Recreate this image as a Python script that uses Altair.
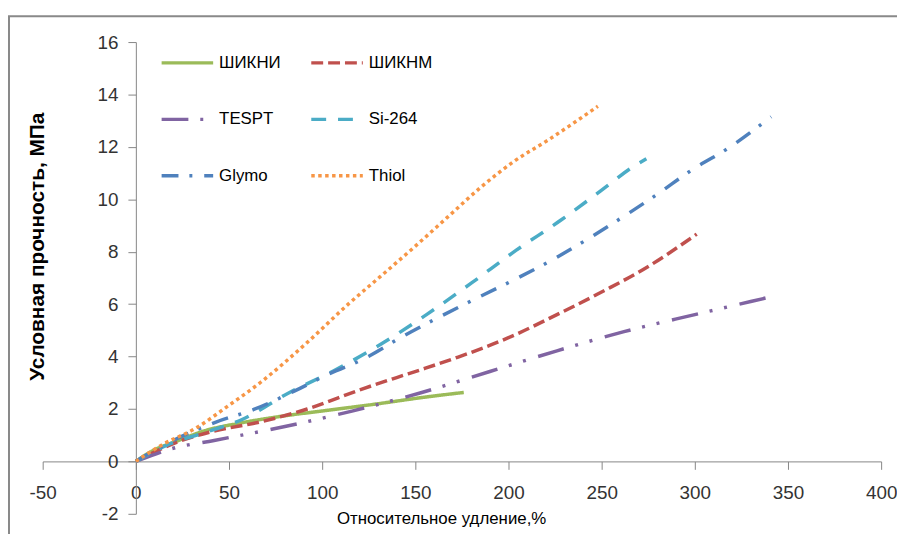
import altair as alt
import pandas as pd

series = ["ШИКНИ", "ШИКНМ", "TESPT", "Si-264", "Glymo", "Thiol"]
colors = ["#9BBB59", "#C0504D", "#8064A2", "#4BACC6", "#4F81BD", "#F79646"]
dashes = [[1, 0], [12, 5], [27, 12, 3, 12, 3, 13], [15, 12], [17, 11, 3, 12], [3.5, 3.5]]

x_shikni = [0, 7, 23, 37, 55, 76, 103, 130, 156, 176]
y_shikni = [0, 0.33, 0.8, 1.17, 1.45, 1.7, 1.95, 2.2, 2.46, 2.63]

x_shiknm = [0, 23, 41, 67, 92, 121, 140, 153, 173, 200, 226, 251, 273, 301]
y_shiknm = [0, 0.76, 1.14, 1.51, 2.0, 2.75, 3.2, 3.5, 3.98, 4.72, 5.6, 6.5, 7.35, 8.67]

x_tespt = [0, 20, 42, 80, 116, 153, 190, 226, 262, 300, 330, 339]
y_tespt = [0, 0.5, 0.8, 1.33, 1.92, 2.62, 3.43, 4.22, 4.95, 5.6, 6.1, 6.25]

x_si264 = [0, 17, 37, 57, 83, 106, 131, 156, 180, 204, 228, 250, 266, 274]
y_si264 = [0, 0.63, 1.1, 1.6, 2.65, 3.45, 4.45, 5.6, 6.8, 8.05, 9.2, 10.35, 11.2, 11.55]

x_glymo = [0, 20, 43, 64, 85, 104, 122, 144, 164, 185, 205, 225, 244, 263, 280, 298, 319, 341]
y_glymo = [0, 0.8, 1.5, 2.0, 2.68, 3.35, 3.9, 4.8, 5.55, 6.3, 7.0, 7.75, 8.55, 9.4, 10.2, 11.1, 12.0, 13.15]

x_thiol = [0, 14, 32, 50, 67, 92, 114, 131, 149, 167, 185, 203, 221, 248]
y_thiol = [0, 0.63, 1.26, 2.14, 3.02, 4.54, 6.0, 7.04, 8.15, 9.3, 10.45, 11.45, 12.25, 13.55]

x_ticks = [-50, 0, 50, 100, 150, 200, 250, 300, 350, 400]
y_ticks = [-2, 0, 2, 4, 6, 8, 10, 12, 14, 16]

xs = [x_shikni, x_shiknm, x_tespt, x_si264, x_glymo, x_thiol]
ys = [y_shikni, y_shiknm, y_tespt, y_si264, y_glymo, y_thiol]

rows = []
for name, xv, yv in zip(series, xs, ys):
    for i, (a, b) in enumerate(zip(xv, yv)):
        rows.append({"series": name, "x": a, "y": b, "i": i})
df = pd.DataFrame(rows)

FONT = "Liberation Sans, Arial, sans-serif"
AXIS_GRAY = "#868686"

W, H = 846, 476

legend = alt.Legend(
    orient="none", legendX=118, legendY=-7, columns=2, direction="horizontal",
    title=None, symbolType="stroke", symbolSize=2704, symbolStrokeWidth=3.5,
    labelFont=FONT, labelFontSize=17, labelColor="#000000",
    labelOffset=4, columnPadding=23, rowPadding=21,
)

lines = alt.Chart(df).mark_line(strokeWidth=3.5, interpolate="monotone").encode(
    x=alt.X(
        "x:Q",
        scale=alt.Scale(domain=[-50, 400], nice=False, zero=False),
        axis=alt.Axis(
            values=x_ticks, orient="bottom", offset=-H * 2 / 18, grid=False,
            tickSize=8, labelPadding=14, labelFont=FONT, labelFontSize=19,
            labelColor="#333333", domainColor=AXIS_GRAY, tickColor=AXIS_GRAY,
            labelExpr="toString(datum.value)",
            title="Относительное удление,%", titleFont=FONT, titleFontSize=17,
            titleFontWeight="normal", titleColor="#000000",
            titleX=445 - 43, titleY=521 - 463.5, titleAlign="center", titleBaseline="middle",
            labelFlush=False, labelOverlap=False,
        ),
    ),
    y=alt.Y(
        "y:Q",
        scale=alt.Scale(domain=[-2, 16], nice=False, zero=False),
        axis=alt.Axis(
            values=y_ticks, orient="left", offset=-W * 50 / 450, grid=False,
            tickSize=8, labelPadding=10, labelFont=FONT, labelFontSize=19,
            labelColor="#333333", domainColor=AXIS_GRAY, tickColor=AXIS_GRAY,
            labelExpr="toString(datum.value)",
            title="Условная прочность, МПа", titleFont=FONT, titleFontSize=21,
            titleFontWeight="bold", titleColor="#000000",
            titleX=38 - 137, titleY=246 - 40, titleAngle=270, titleAlign="center",
            titleBaseline="middle", labelFlush=False, labelOverlap=False,
        ),
    ),
    color=alt.Color("series:N", scale=alt.Scale(domain=series, range=colors), legend=legend),
    strokeDash=alt.StrokeDash("series:N", scale=alt.Scale(domain=series, range=dashes), legend=legend),
    order="i:Q",
)

frame = alt.Chart(pd.DataFrame({"a": [0]})).mark_rect(
    filled=False, stroke="#898989", strokeWidth=2
).encode(
    x=alt.value(-34), y=alt.value(-26), x2=alt.value(W + 60), y2=alt.value(H + 80)
)

chart = alt.layer(frame, lines).properties(
    width=W, height=H,
    autosize=alt.AutoSizeParams(type="none"),
    padding={"left": 35, "top": 32, "right": 16, "bottom": 18},
    background="white",
).configure_view(stroke=None)

chart.save("out.html", embed_options={"renderer": "svg", "actions": False})
